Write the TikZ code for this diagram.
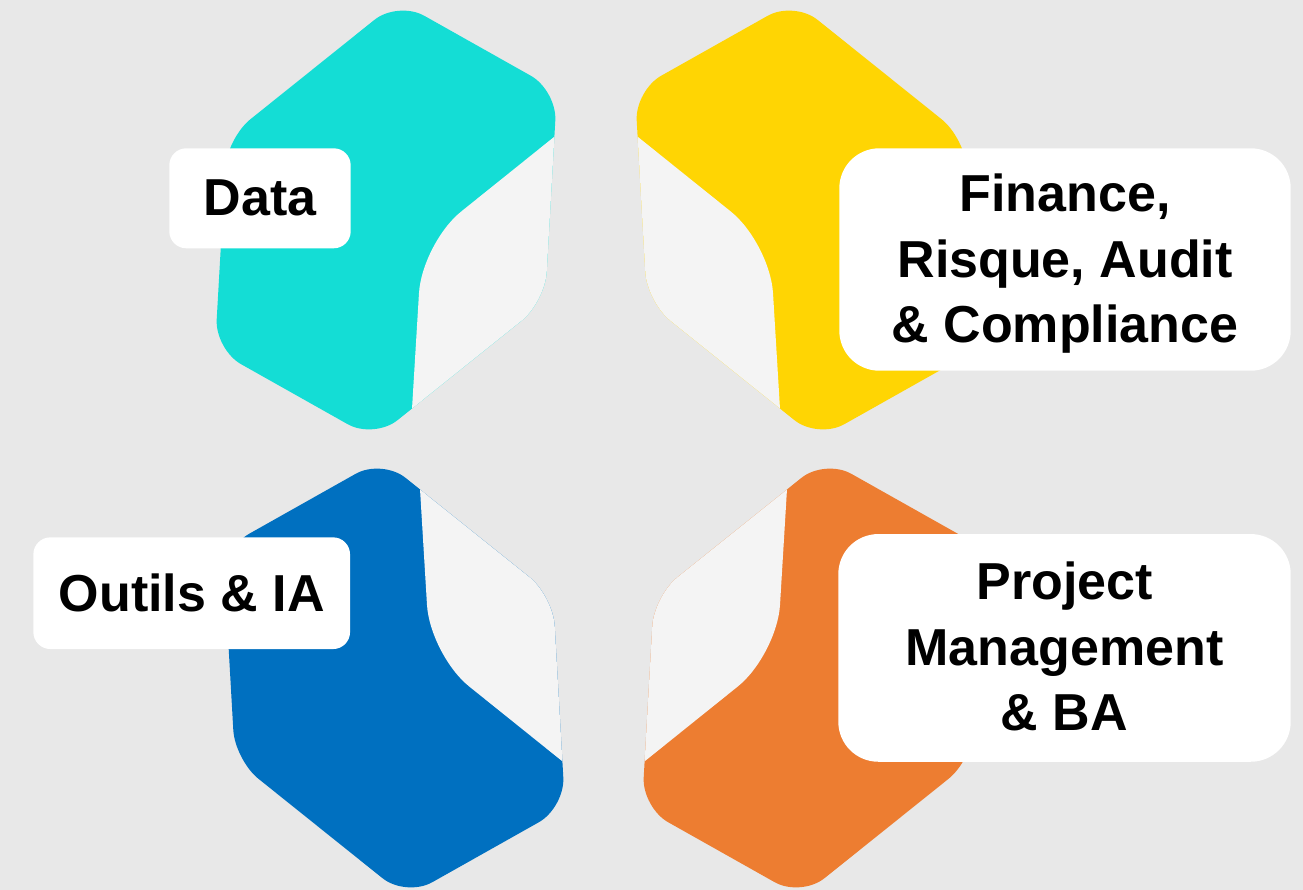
\documentclass[tikz,border=0pt]{standalone}
\usepackage{fontspec}
\setmainfont{Liberation Sans}
\definecolor{bgc}{HTML}{E8E8E8}
\definecolor{tealc}{HTML}{14DDD5}
\definecolor{yellowc}{HTML}{FFD503}
\definecolor{bluec}{HTML}{0070C0}
\definecolor{orangec}{HTML}{ED7D31}
\definecolor{facegray}{HTML}{F4F4F4}
\tikzset{
  pics/cube/.style={code={
    \begin{scope}
      \clip[rounded corners=30pt] (12,-219) -- (171,-129.5) -- (159,82) -- (-12,219) -- (-171,129.5) -- (-159,-82) -- cycle;
      \fill[#1] (-220,-260) rectangle (220,260);
      \fill[facegray] (23,239) -- (26,189) -- (33,73) .. controls (34.7,45.4) and (53.5,9) .. (75,-8.3) -- (168,-83) -- (208,-115) -- (250,-115) -- (250,239) -- cycle;
    \end{scope}
  }},
  label text/.style={inner sep=0pt, align=center, text=black,
    font=\fontsize{52}{65.5}\selectfont\bfseries},
  label box/.style={label text, fill=white},
  small box/.style={label box, rounded corners=17pt},
  big box/.style={fill=white, inner sep=0pt, rounded corners=40pt}
}
\begin{document}
\begin{tikzpicture}[x=1pt,y=-1pt]
\useasboundingbox (0,0) rectangle (1303,890);
\fill[bgc] (0,0) rectangle (1303,890);
\pic (teal) at (386,220) {cube=tealc};
\pic[xscale=-1] (yellow) at (806,220) {cube=yellowc};
\pic[yscale=-1] (blue) at (394,678) {cube=bluec};
\pic[xscale=-1,yscale=-1] (orange) at (813,678) {cube=orangec};
\node[small box, minimum width=181.4pt, minimum height=100pt] (data) at (260,198.3) {Data};
\node[small box, minimum width=316.7pt, minimum height=111.7pt] (outils) at (191.7,593.2) {Outils \& IA};
\node[big box, minimum width=451.4pt, minimum height=222.4pt] (finance) at (1065,259.5) {};
\node[label text, yshift=-4.5pt] (financetext) at (finance.center) {Finance,\\Risque, Audit\\\& Compliance};
\node[big box, minimum width=452.4pt, minimum height=227.7pt] (project) at (1064.5,647.9) {};
\node[label text, yshift=1pt] (projecttext) at (project.center) {Project\\Management\\\& BA};
\end{tikzpicture}
\end{document}
